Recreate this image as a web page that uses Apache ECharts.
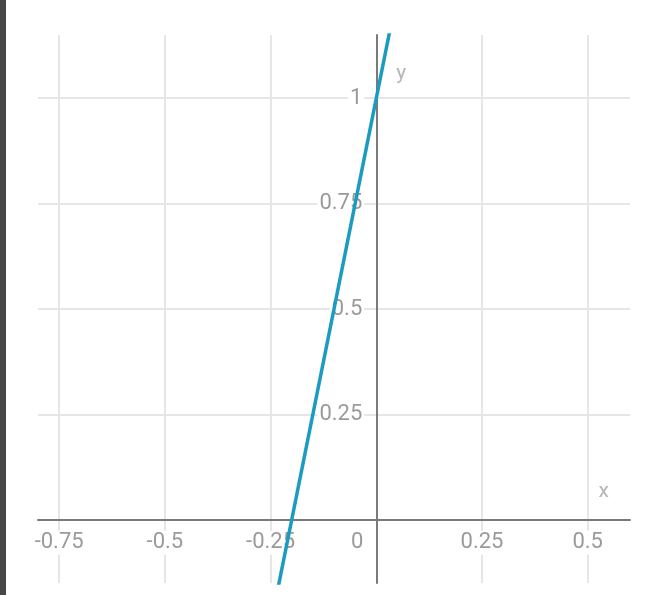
<!DOCTYPE html>
<html>
<head>
<meta charset="utf-8">
<script src="https://cdn.jsdelivr.net/npm/echarts@6/dist/echarts.min.js"></script>
<style>
html,body{margin:0;padding:0;background:#fff;}
#chart{width:663px;height:595px;}
</style>
</head>
<body>
<div id="chart"></div>
<script>
// Data: straight line y = 5x + 1
const lineX = [-0.25, 0.05];
const lineY = [-0.25, 1.25];
const xTicks = [-0.75, -0.5, -0.25, 0, 0.25, 0.5];
const yTicks = [0.25, 0.5, 0.75, 1];
const xGrid = [-0.75, -0.5, -0.25, 0.25, 0.5];
const yGrid = [0.25, 0.5, 0.75, 1];

const xMin = -0.8, xMax = 0.6, yMin = -0.15, yMax = 1.15;
const gLeft = 38, gRight = 33, gTop = 35, gBottom = 12;
const W = 663, H = 595;
const gW = W - gLeft - gRight, gH = H - gTop - gBottom;
// offsets that bring the axes onto the zero lines
const xAxisOffset = -((0 - yMin) / (yMax - yMin)) * gH;
const yAxisOffset = -((0 - xMin) / (xMax - xMin)) * gW;

const labelColor = '#9a9a9a';
const gridColor = '#e6e6e6';
const axisColor = '#7a7a7a';
const fs = 22;

const chart = echarts.init(document.getElementById('chart'), null, {renderer: 'canvas'});
chart.setOption({
  animation: false,
  backgroundColor: '#fff',
  graphic: [{
    type: 'rect', left: 0, top: 0, z: 100,
    shape: {width: 6, height: 595},
    style: {fill: '#474747'}
  }],
  grid: {left: gLeft, right: gRight, top: gTop, bottom: gBottom, containLabel: false, outerBoundsMode: 'none'},
  xAxis: {
    type: 'value', min: xMin, max: xMax,
    offset: xAxisOffset,
    name: 'x', nameLocation: 'end', nameGap: 0,
    nameTextStyle: {color: '#b5b5b5', fontSize: 21, fontFamily: 'Roboto', align: 'right', verticalAlign: 'bottom', padding: [0, 21, 18, 0]},
    axisLine: {show: true, onZero: false, lineStyle: {color: axisColor, width: 2}},
    axisTick: {show: false, customValues: xGrid},
    splitLine: {show: true, lineStyle: {color: gridColor, width: 2}},
    axisLabel: {
      customValues: xTicks,
      color: labelColor, fontSize: fs, fontFamily: 'Roboto',
      margin: 11,
      formatter: function (v) {
        if (v === 0) return '{a|0}{p|}';
        return '{a|' + v + '}';
      },
      rich: {
        a: {color: labelColor, fontSize: fs, fontFamily: 'Roboto', backgroundColor: '#fff', padding: [1, 2]},
        p: {width: 38}
      }
    }
  },
  yAxis: {
    type: 'value', min: yMin, max: yMax,
    offset: yAxisOffset,
    name: 'y', nameLocation: 'end', nameGap: 0,
    nameTextStyle: {color: '#b5b5b5', fontSize: 21, fontFamily: 'Roboto', align: 'left', verticalAlign: 'top', padding: [28, 0, 0, 20]},
    axisLine: {show: true, onZero: false, lineStyle: {color: axisColor, width: 2}},
    axisTick: {show: false, customValues: yGrid},
    splitLine: {show: true, lineStyle: {color: gridColor, width: 2}},
    axisLabel: {
      customValues: yTicks,
      color: labelColor, fontSize: fs, fontFamily: 'Roboto',
      margin: 12,
      backgroundColor: '#fff', padding: [1, 2]
    }
  },
  series: [{
    type: 'line',
    data: lineX.map((x, i) => [x, lineY[i]]),
    showSymbol: false,
    clip: true,
    lineStyle: {color: '#1a9bbf', width: 3.5},
    itemStyle: {color: '#1a9bbf'}
  }]
});
</script>
</body>
</html>
